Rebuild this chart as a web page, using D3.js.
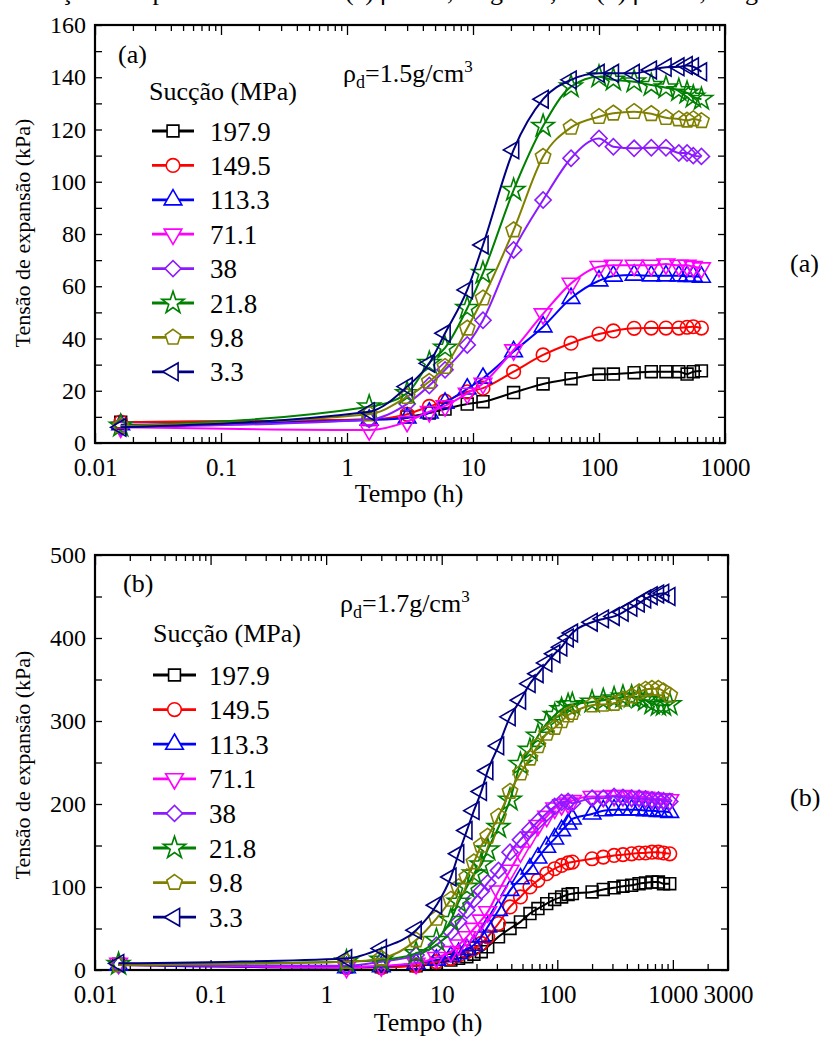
<!DOCTYPE html>
<html><head><meta charset="utf-8">
<script src="https://cdn.jsdelivr.net/npm/d3@7"></script>
<style>
body{margin:0;background:#fff}
svg{display:block}
svg, svg text{font-family:'Liberation Serif','Times New Roman',Times,'DejaVu Serif',serif;fill:#000}
</style>
</head><body>
<svg id="chart" width="828" height="1038" font-family="Liberation Serif, Times New Roman, serif"></svg>
<script>
// ---------------- DATA ----------------
const suctions = ["197.9","149.5","113.3","71.1","38","21.8","9.8","3.3"];
const seriesColors = ["#000000","#ff0000","#0000ff","#ff00ff","#8c1aff","#008000","#808000","#000080"];
const seriesMarkers = ["square","circle","triUp","triDown","diamond","star","pentagon","triLeft"];

// Panel (a): rho_d = 1.5 g/cm3
const timeA = [0.016, 1.5, 3, 4.5, 6, 9, 12, 21, 36, 60, 100, 130, 190, 260, 340, 430, 500, 560, 650];
const a_197_9 = [8, 9, 10, 11.5, 13, 14.9, 15.8, 19.3, 22.6, 24.6, 26.3, 26.4, 26.9, 27.3, 27.3, 27.3, 26.4, 27.3, 27.6];
const a_149_5 = [8, 9, 11, 14, 16, 19.6, 21, 27.3, 33.7, 38.2, 41.7, 42.9, 43.9, 44, 44, 44, 44.3, 44.5, 44];
const a_113_3 = [7, 8.8, 9.6, 11.5, 15.3, 20.7, 24.8, 35, 44.5, 55.4, 62.1, 63.9, 64.3, 64, 64, 64, 63.8, 63.8, 63.5];
const a_71_1  = [6, 5, 8.2, 12, 14.2, 19, 22.8, 35.6, 49.4, 61.1, 67.5, 68, 68, 68, 68.5, 68, 68, 67.5, 67];
const a_38    = [6, 9, 15, 22, 28, 37.5, 47, 73.9, 93, 109, 116.6, 113.4, 112.8, 113, 113, 111, 111, 110, 109.7];
const a_21_8  = [6.5, 13.9, 19, 30.6, 36.4, 51.6, 65, 96.8, 121.3, 136.4, 140.2, 139, 138.3, 137, 136, 135, 134, 132.5, 131.6];
const a_9_8   = [6.5, 11, 17.7, 23.5, 29.2, 43.9, 55.4, 81.5, 109.6, 120.8, 124.9, 126.2, 126.8, 126, 124.5, 124, 123.5, 124, 123.3];
const a_3_3   = [6, 12, 21.6, 30.5, 42, 58.6, 75.8, 112.2, 131.6, 139, 141.5, 141.5, 141.5, 142.8, 143.8, 144, 144.5, 144, 142.1];

// Panel (b): rho_d = 1.7 g/cm3
const timeB = [0.016, 1.5, 3, 6, 9, 12, 14, 16.5, 19, 22, 25, 31, 39, 48, 58, 68, 81, 95, 109, 124, 135, 200, 250, 310, 370, 440, 510, 580, 660, 750, 830, 940];
const b_197_9 = [7, 4, 4, 5, 8, 12, 14, 16, 19, 22, 28, 40, 50, 58, 68, 74, 80, 85, 88, 91, 92, 94, 97, 99, 101, 102, 104, 105, 106, 106, 104, 104];
const b_149_5 = [6, 3, 3, 5, 10, 14, 18, 22, 26, 32, 40, 56, 76, 88, 100, 108, 116, 122, 126, 129, 130, 134, 136, 138, 139, 140, 141, 141, 142, 142, 141, 140];
const b_113_3 = [6, 3, 4, 8, 12, 16, 20, 25, 30, 40, 52, 72, 96, 110, 122, 135, 148, 158, 168, 176, 182, 188, 192, 193, 193, 193, 193, 192, 192, 191, 191, 190];
const b_71_1  = [8, 3, 5, 8, 15, 22, 30, 40, 50, 60, 70, 95, 120, 142, 160, 174, 185, 195, 199, 201, 204, 209, 209, 210, 210, 209, 209, 208, 207, 206, 206, 205];
const b_38    = [6, 5, 10, 18, 30, 46, 58, 72, 85, 95, 105, 120, 142, 157, 169, 179, 189, 197, 202, 203, 201, 207, 207, 209, 208, 207, 207, 206, 205, 205, 204, 203];
const b_21_8  = [7, 10, 12, 20, 36, 60, 82, 100, 116, 127, 145, 172, 205, 248, 265, 282, 297, 307, 314, 319, 320, 323, 325, 327, 329, 329, 328, 325, 321, 319, 319, 320];
const b_9_8   = [6, 10, 14, 36, 62, 85, 100, 112, 130, 150, 161, 185, 215, 237, 255, 270, 285, 292, 300, 307, 310, 319, 320, 321, 326, 330, 335, 338, 339, 339, 336, 331];
const b_3_3   = [8, 14, 26, 48, 78, 112, 140, 168, 192, 215, 240, 270, 305, 325, 345, 357, 370, 381, 389, 400, 406, 419, 423, 426, 431, 437, 442, 447, 451, 453, 454, 450];

const xTicksA = [0.01, 0.1, 1, 10, 100, 1000];
const xTickLabelsA = ["0.01", "0.1", "1", "10", "100", "1000"];
const xTicksB = [0.01, 0.1, 1, 10, 100, 1000, 3000];
const xTickLabelsB = ["0.01", "0.1", "1", "10", "100", "1000", "3000"];
const yTicksA = [0, 20, 40, 60, 80, 100, 120, 140, 160];
const yTicksB = [0, 100, 200, 300, 400, 500];

// ---------------- DRAWING ----------------
const svg = d3.select("#chart");
const FONT = "'Liberation Serif','Times New Roman',Times,'DejaVu Serif',serif";

// header line (cropped at top of the figure)
const header = svg.append("text").attr("y", 0).style("font-family", FONT).style("font-size", "26px");
[["ução de", 48], ["expansão", 128], ["(a) ρd = 1,5", 345], ["g/cm³;", 490], ["(b) ρd = 1,7", 596], ["g/cm³", 745]]
  .forEach(([t, x]) => header.append("tspan").attr("x", x).text(t));

// custom pentagon symbol
const symbolPentagon = {
  draw(ctx, size) {
    const r = Math.sqrt(size / 2.378);
    for (let i = 0; i < 5; i++) {
      const a = -Math.PI / 2 + i * 2 * Math.PI / 5;
      const px = r * Math.cos(a), py = r * Math.sin(a);
      if (i === 0) ctx.moveTo(px, py); else ctx.lineTo(px, py);
    }
    ctx.closePath();
  }
};
function markerPath(kind) {
  switch (kind) {
    case "square": return { d: d3.symbol(d3.symbolSquare, 140)(), rot: 0 };
    case "circle": return { d: d3.symbol(d3.symbolCircle, 145)(), rot: 0 };
    case "triUp": return { d: d3.symbol(d3.symbolTriangle, 135)(), rot: 0 };
    case "triDown": return { d: d3.symbol(d3.symbolTriangle, 135)(), rot: 180 };
    case "diamond": return { d: d3.symbol(d3.symbolSquare, 130)(), rot: 45 };
    case "star": return { d: d3.symbol(d3.symbolStar, 155)(), rot: 0 };
    case "pentagon": return { d: d3.symbol(symbolPentagon, 155)(), rot: 0 };
    case "triLeft": return { d: d3.symbol(d3.symbolTriangle, 135)(), rot: -90 };
  }
}

function drawPanel(cfg) {
  const g = svg.append("g").style("font-family", FONT);
  const x = d3.scaleLog().domain(cfg.xDomain).range([cfg.left, cfg.right]);
  const y = d3.scaleLinear().domain(cfg.yDomain).range([cfg.bottom, cfg.top]);

  const minorX = [];
  for (let e = -2; e <= 3; e++) for (let m = 2; m <= 9; m++) {
    const v = m * Math.pow(10, e);
    if (v < cfg.xDomain[1] && !cfg.xTicks.includes(v)) minorX.push(v);
  }
  const styleAxis = (sel, fs) => {
    sel.attr("font-family", null).attr("font-size", null);
    sel.select(".domain").remove();
    sel.selectAll(".tick line").attr("stroke", "#000").attr("stroke-width", 1.3);
    sel.selectAll("text").style("font-family", FONT).style("font-size", (fs || 24) + "px").attr("fill", "#000");
  };
  g.append("g").attr("transform", `translate(0,${cfg.bottom})`)
    .call(d3.axisBottom(x).tickValues(cfg.xTicks).tickFormat((d, i) => cfg.xLabels[i]).tickSize(-10).tickPadding(15))
    .call(styleAxis, 25);
  g.append("g").attr("transform", `translate(0,${cfg.bottom})`)
    .call(d3.axisBottom(x).tickValues(minorX).tickFormat("").tickSize(-6)).call(styleAxis);
  g.append("g").attr("transform", `translate(0,${cfg.top})`)
    .call(d3.axisTop(x).tickValues(cfg.xTicks).tickFormat("").tickSize(-10)).call(styleAxis);
  g.append("g").attr("transform", `translate(0,${cfg.top})`)
    .call(d3.axisTop(x).tickValues(minorX).tickFormat("").tickSize(-6)).call(styleAxis);
  const step = cfg.yTicks[1] - cfg.yTicks[0];
  const minorY = cfg.yTicks.slice(0, -1).map(v => v + step / 2);
  g.append("g").attr("transform", `translate(${cfg.left},0)`)
    .call(d3.axisLeft(y).tickValues(cfg.yTicks).tickSize(-7).tickPadding(9)).call(styleAxis, 24);
  g.append("g").attr("transform", `translate(${cfg.left},0)`)
    .call(d3.axisLeft(y).tickValues(minorY).tickFormat("").tickSize(-7)).call(styleAxis);
  g.append("g").attr("transform", `translate(${cfg.right},0)`)
    .call(d3.axisRight(y).tickValues(cfg.yTicks).tickFormat("").tickSize(-7)).call(styleAxis);
  g.append("g").attr("transform", `translate(${cfg.right},0)`)
    .call(d3.axisRight(y).tickValues(minorY).tickFormat("").tickSize(-7)).call(styleAxis);

  g.append("rect").attr("x", cfg.left).attr("y", cfg.top)
    .attr("width", cfg.right - cfg.left).attr("height", cfg.bottom - cfg.top)
    .attr("fill", "none").attr("stroke", "#000").attr("stroke-width", 2.2);

  const line = d3.line().x(d => x(d[0])).y(d => y(d[1])).curve(d3.curveMonotoneX);
  cfg.series.forEach((vals, i) => {
    const pts = cfg.time.map((t, k) => [t, vals[k]]);
    const col = seriesColors[i];
    g.append("path").attr("d", line(pts)).attr("fill", "none")
      .attr("stroke", col).attr("stroke-width", 2);
    const mk = markerPath(seriesMarkers[i]);
    g.append("g").selectAll("path").data(pts).join("path")
      .attr("d", mk.d)
      .attr("transform", d => `translate(${x(d[0])},${y(d[1])}) rotate(${mk.rot})`)
      .attr("fill", "none").attr("stroke", col).attr("stroke-width", 1.6);
  });

  g.append("text").attr("x", cfg.legTitleX).attr("y", cfg.legTitleY)
    .style("font-size", "26px").text("Sucção (MPa)");
  suctions.forEach((s, i) => {
    const cy = cfg.legY0 + i * cfg.legStep;
    const col = seriesColors[i];
    g.append("line").attr("x1", cfg.legX1).attr("x2", cfg.legX2).attr("y1", cy).attr("y2", cy)
      .attr("stroke", col).attr("stroke-width", 2.8);
    const mk = markerPath(seriesMarkers[i]);
    g.append("path").attr("d", mk.d)
      .attr("transform", `translate(${(cfg.legX1 + cfg.legX2) / 2},${cy}) rotate(${mk.rot})`)
      .attr("fill", "#fff").attr("stroke", col).attr("stroke-width", 1.6);
    g.append("text").attr("x", cfg.legTextX).attr("y", cy + 9.5)
      .style("font-size", "27px").text(s);
  });

  g.append("text").attr("x", cfg.tagX).attr("y", cfg.tagY).style("font-size", "26px").text(cfg.tag);
  const rho = g.append("text").attr("x", cfg.rhoX).attr("y", cfg.rhoY).style("font-size", "26px");
  rho.append("tspan").text("ρ");
  rho.append("tspan").attr("dy", 6).style("font-size", "18px").text("d");
  rho.append("tspan").attr("dy", -6).text("=" + cfg.rho + "g/cm");
  rho.append("tspan").attr("dy", -10).style("font-size", "17px").text("3");

  g.append("text").attr("transform", `translate(${cfg.yTitleX},${cfg.yTitleY}) rotate(-90)`)
    .attr("text-anchor", "middle").attr("dominant-baseline", "central")
    .style("font-size", "22px").text("Tensão de expansão (kPa)");
  g.append("text").attr("x", cfg.xTitleX).attr("y", cfg.xTitleY).attr("text-anchor", "middle")
    .style("font-size", "26px").text("Tempo (h)");
  g.append("text").attr("x", 790).attr("y", cfg.sideY).style("font-size", "26px").text(cfg.tag);
}

drawPanel({
  xDomain: [0.01, 1000], yDomain: [0, 160],
  left: 95, right: 725, top: 25, bottom: 443,
  xTicks: xTicksA, xLabels: xTickLabelsA, yTicks: yTicksA,
  time: timeA, series: [a_197_9, a_149_5, a_113_3, a_71_1, a_38, a_21_8, a_9_8, a_3_3],
  legTitleX: 149, legTitleY: 100, legY0: 131, legStep: 34.4,
  legX1: 152, legX2: 194, legTextX: 210,
  tag: "(a)", tagX: 118, tagY: 63, rho: "1.5", rhoX: 343, rhoY: 82,
  yTitleX: 22, yTitleY: 233, xTitleX: 409, xTitleY: 502, sideY: 272
});
drawPanel({
  xDomain: [0.01, 3000], yDomain: [0, 500],
  left: 95, right: 728, top: 555, bottom: 970,
  xTicks: xTicksB, xLabels: xTickLabelsB, yTicks: yTicksB,
  time: timeB, series: [b_197_9, b_149_5, b_113_3, b_71_1, b_38, b_21_8, b_9_8, b_3_3],
  legTitleX: 153, legTitleY: 642, legY0: 675, legStep: 34.6,
  legX1: 153, legX2: 196, legTextX: 209,
  tag: "(b)", tagX: 123, tagY: 592, rho: "1.7", rhoX: 340, rhoY: 612,
  yTitleX: 22, yTitleY: 765, xTitleX: 428, xTitleY: 1031, sideY: 806
});
</script>
</body></html>
